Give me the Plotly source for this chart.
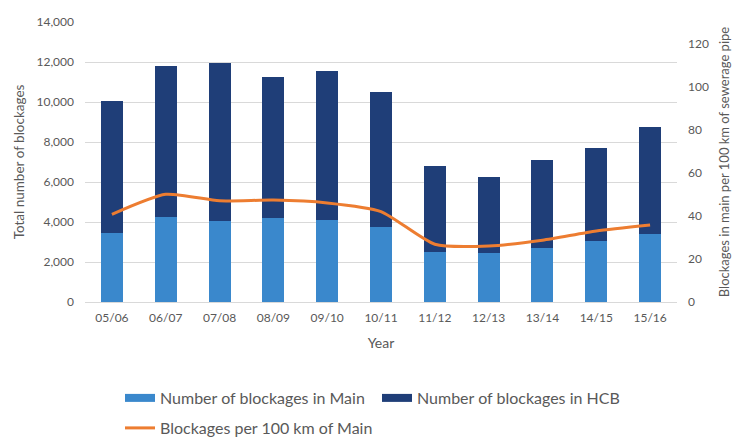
import plotly.graph_objects as go

years = ["05/06", "06/07", "07/08", "08/09", "09/10", "10/11", "11/12", "12/13", "13/14", "14/15", "15/16"]
main_blockages = [3450, 4250, 4050, 4200, 4100, 3750, 2500, 2430, 2700, 3050, 3400]
total_blockages = [10050, 11800, 11950, 11250, 11550, 10500, 6800, 6250, 7100, 7700, 8750]
hcb_blockages = [t - m for t, m in zip(total_blockages, main_blockages)]
per_100km = [40.7, 50.0, 47.0, 47.3, 46.0, 42.0, 26.8, 26.0, 28.7, 33.0, 35.8]

left_ticks = [0, 2000, 4000, 6000, 8000, 10000, 12000, 14000]
right_ticks = [0, 20, 40, 60, 80, 100, 120]

FONT = "Lato, 'Open Sans', sans-serif"
GRAY = "#595959"
C_MAIN = "#3A88CC"
C_HCB = "#1F3E78"
C_LINE = "#ED7D31"

fig = go.Figure()
fig.add_trace(go.Bar(x=years, y=main_blockages, name="Number of blockages in Main",
                     marker=dict(color=C_MAIN, line=dict(width=0)),
                     legendgroup="main", showlegend=False))
fig.add_trace(go.Bar(x=years, y=hcb_blockages, name="Number of blockages in HCB",
                     marker=dict(color=C_HCB, line=dict(width=0)),
                     legendgroup="hcb", showlegend=False))
fig.add_trace(go.Scatter(x=years, y=per_100km, name="Blockages per 100 km of Main",
                         yaxis="y2", mode="lines",
                         line=dict(color=C_LINE, width=3, shape="spline", smoothing=0.6),
                         legend="legend2"))
# legend swatches (wide rectangles like the original)
fig.add_trace(go.Scatter(x=[None], y=[None], mode="lines", name="Number of blockages in Main",
                         line=dict(color=C_MAIN, width=8), legendgroup="main", legend="legend"))
fig.add_trace(go.Scatter(x=[None], y=[None], mode="lines", name="Number of blockages in HCB",
                         line=dict(color=C_HCB, width=8), legendgroup="hcb", legend="legend"))

tick_font = dict(size=12, color=GRAY, family=FONT)

fig.update_layout(
    width=737, height=439,
    barmode="stack", bargap=0.59,
    paper_bgcolor="white", plot_bgcolor="white",
    font=dict(family=FONT, color=GRAY, size=13),
    margin=dict(l=85, r=60, t=22, b=137, autoexpand=False),
    xaxis=dict(
        title=dict(text="Year", font=dict(size=14, color=GRAY, family=FONT), standoff=14),
        showline=False, ticks="", tickfont=tick_font, automargin=False,
        ticklabelstandoff=7,
    ),
    yaxis=dict(
        title=dict(text="Total number of blockages", font=dict(size=13.5, color=GRAY, family=FONT), standoff=8),
        range=[0, 14000], tickvals=left_ticks, tickformat=",d",
        showgrid=True, gridcolor="#D9D9D9", gridwidth=1,
        zeroline=True, zerolinecolor="#D9D9D9", zerolinewidth=1,
        showline=False, ticks="", tickfont=tick_font, automargin=False,
        ticklabelstandoff=10,
    ),
    yaxis2=dict(
        title=dict(text="Blockages in main per 100 km of sewerage pipe",
                   font=dict(size=13, color=GRAY, family=FONT), standoff=11),
        overlaying="y", side="right", range=[0, 130], tickvals=right_ticks,
        showgrid=False, zeroline=False, showline=False, ticks="",
        tickfont=tick_font, automargin=False, ticklabelstandoff=10,
    ),
    legend=dict(
        orientation="h", x=(120 - 85) / 592, y=(302 - 381) / 280,
        xanchor="left", yanchor="top",
        entrywidth=212, entrywidthmode="pixels",
        font=dict(size=16, color=GRAY), itemwidth=30,
    ),
    legend2=dict(
        orientation="h", x=(120 - 85) / 592, y=(302 - 411) / 280,
        xanchor="left", yanchor="top",
        font=dict(size=16, color=GRAY), itemwidth=30,
    ),
    showlegend=True,
)

fig.write_html("out.html", config={"displayModeBar": False},
               post_script="document.body.style.margin='0';")
